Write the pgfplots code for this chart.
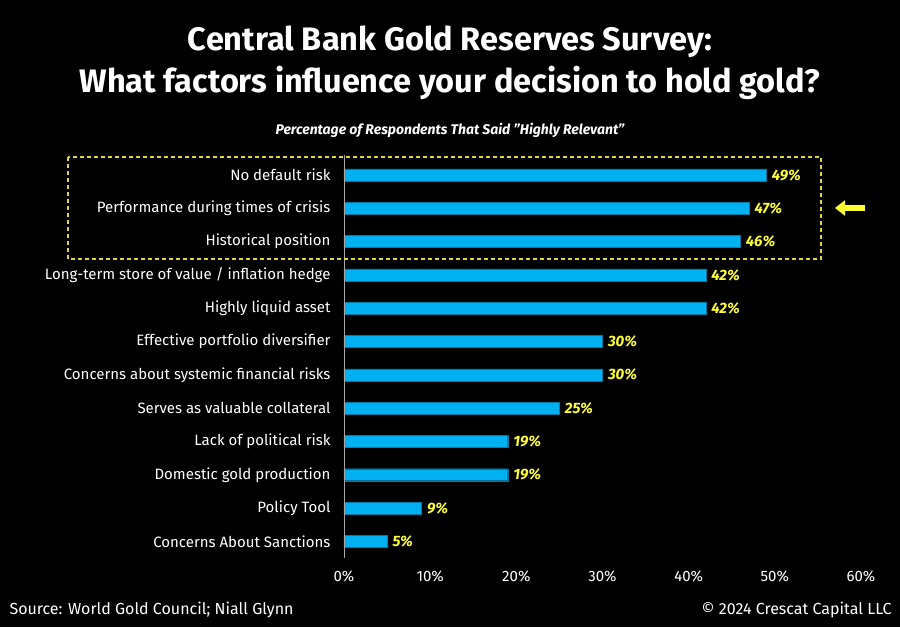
\documentclass[border=0pt]{standalone}
\usepackage{pgfplots}
\pgfplotsset{compat=1.18}
\usepackage{fontspec}
\setmainfont{Fira Sans}
\usetikzlibrary{arrows.meta}
\definecolor{barblue}{HTML}{00B0F0}
\definecolor{lblyellow}{HTML}{FFFF33}
\definecolor{boxyellow}{HTML}{E0D830}
\definecolor{axisgray}{HTML}{A6A6A6}
\begin{document}
\begin{tikzpicture}[x=1pt,y=1pt]
% page background
\fill[black] (0,0) rectangle (900,-627);
\coordinate (axpos) at (344,-558);
% titles
\node[white,font=\bfseries\fontsize{32.5}{38}\selectfont] at (450,-42) {Central Bank Gold Reserves Survey:};
\node[white,font=\bfseries\fontsize{32.5}{38}\selectfont] at (450,-83) {What factors influence your decision to hold gold?};
\node[white,font=\bfseries\itshape\fontsize{14}{16}\selectfont] at (450,-130) {Percentage of Respondents That Said "Highly Relevant"};
\begin{axis}[
  at={(axpos)}, anchor=south west,
  scale only axis, width=517pt, height=403pt,
  xbar, bar width=12pt,
  xmin=0, xmax=60, ymin=-0.6, ymax=11.5, y dir=reverse,
  axis line style={draw=none},
  major tick length=0pt,
  /pgf/number format/assume math mode=true,
  xtick={0,10,...,60},
  xticklabel={\pgfmathprintnumber{\tick}\%},
  xticklabel style={white,font=\fontsize{15}{18}\selectfont,yshift=-9pt},
  ytick={0,...,11},
  yticklabels={No default risk,Performance during times of crisis,Historical position,Long-term store of value / inflation hedge,Highly liquid asset,Effective portfolio diversifier,Concerns about systemic financial risks,Serves as valuable collateral,Lack of political risk,Domestic gold production,Policy Tool,Concerns About Sanctions},
  yticklabel style={white,font=\fontsize{15}{18}\selectfont,xshift=-10pt},
  nodes near coords={\pgfmathprintnumber{\pgfplotspointmeta}\%},
  point meta=x,
  nodes near coords style={lblyellow,font=\bfseries\itshape\fontsize{15}{18}\selectfont,anchor=west,xshift=2pt},
  clip=false,
]
\addplot[draw=barblue!70!black, fill=barblue] coordinates {
  (49,0) (47,1) (46,2) (42,3) (42,4) (30,5)
  (30,6) (25,7) (19,8) (19,9) (9,10) (5,11)};
\draw[axisgray, line width=0.8pt] (axis cs:0,-0.6) -- (axis cs:0,11.5);
\end{axis}
% highlight of the top three factors
\draw[boxyellow, line width=1.3pt, dash pattern=on 4pt off 3pt] (68,-157) rectangle (821,-259);
\draw[lblyellow, line width=5.5pt, -{Triangle[width=15pt,length=10pt]}] (865,-208) -- (835,-208);
% footer
\node[anchor=west,white,font=\fontsize{16}{19}\selectfont] at (6,-610) {Source: World Gold Council; Niall Glynn};
\node[anchor=east,white,font=\fontsize{16}{19}\selectfont] at (895,-610) {© 2024 Crescat Capital LLC};
\end{tikzpicture}
\end{document}
